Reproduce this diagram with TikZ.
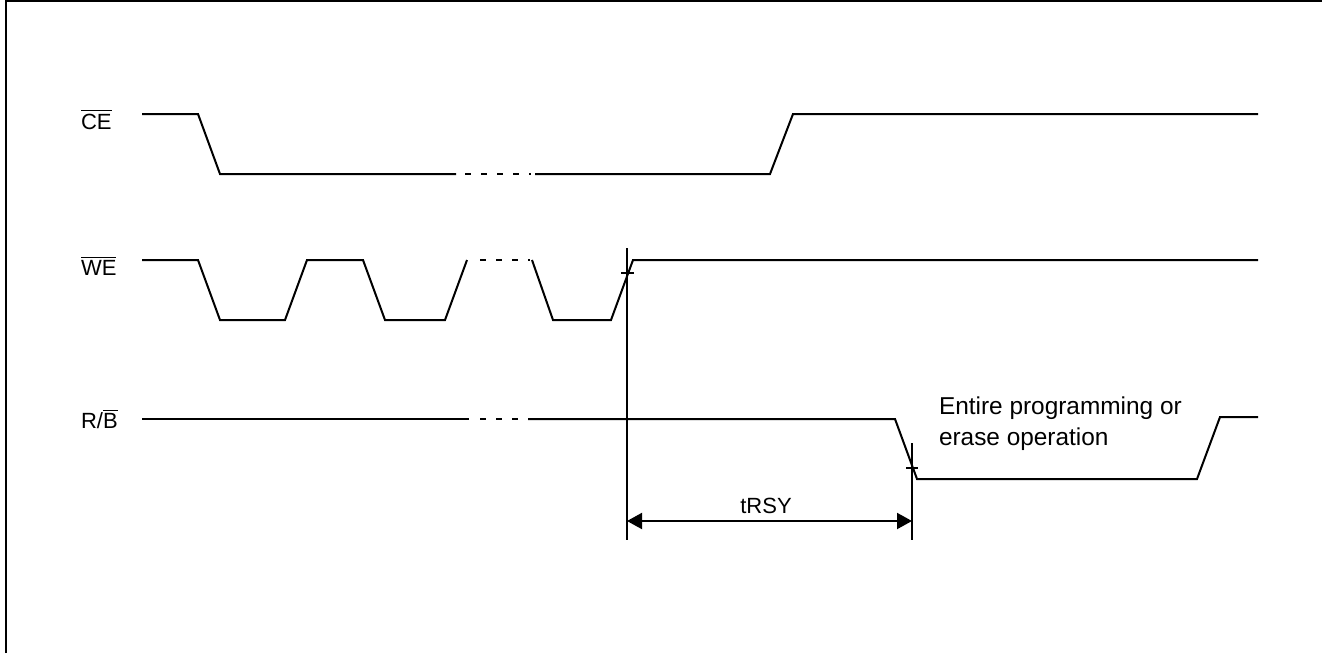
\documentclass[tikz,border=0pt]{standalone}
\usepackage{fontspec}
\setmainfont{Liberation Sans}
\usetikzlibrary{arrows.meta}
\begin{document}
\begin{tikzpicture}[x=0.5pt,y=-0.5pt,line width=1pt,
        every node/.style={inner sep=0pt,font=\fontsize{11}{15.5}\selectfont},
        gap/.style={dash pattern=on 3pt off 5pt},
        >={Triangle[length=7.5pt,width=8pt]}]
            \useasboundingbox (0,0) rectangle (1322,653);
            \draw (5.5,653) -- (5.5,0.5) -- (1322,0.5);
            % signal names
            \node[anchor=base west] (ce) at (80,129) {$\overline{\mbox{CE}}$};
            \node[anchor=base west] (we) at (80,275) {$\overline{\mbox{WE}}$};
            \node[anchor=base west] (rb) at (80,428) {R/$\overline{\mbox{B}}$};
            % CE
            \draw (142,114) -- (198,114) -- (220,174) -- (456,174);
            \draw[gap] (465,174) -- (531,174);
            \draw (535,174) -- (770,174) -- (793,114) -- (1258,114);
            % WE
            \draw (142,260) -- (198,260) -- (220,320) -- (285,320) -- (307,260) -- (363,260)
                -- (385,320) -- (445,320) -- (467,260);
            \draw[gap] (480,260) -- (530,260);
            \draw (532,260) -- (553,320) -- (611,320) -- (633,260) -- (1258,260);
            % R/B
            \draw (142,419) -- (469,419);
            \draw[gap] (480,419) -- (518,419);
            \draw (528,419) -- (895,419) -- (917,479) -- (1197,479) -- (1220,417) -- (1258,417);
            % timing
            \coordinate (t0) at (627,248);
            \coordinate (t0b) at (627,540);
            \coordinate (t1) at (912,443);
            \coordinate (t1b) at (912,540);
            \draw (t0) -- (t0b);
            \draw (t1) -- (t1b);
            \draw (621,272.7) -- (634,272.7);
            \draw (906,467.7) -- (918,467.7);
            \draw[<->] (627,521) -- (912,521);
            \node[anchor=base] (trsy) at (766,513) {tRSY};
            \node[anchor=north west,align=left,font=\fontsize{12.2}{15.5}\selectfont] (op) at (938,396)
                {Entire programming or\\erase operation};
        \end{tikzpicture}
\end{document}
